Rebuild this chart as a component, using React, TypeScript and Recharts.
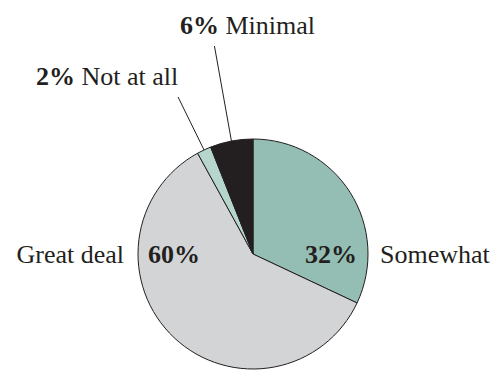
import { PieChart, Pie, Cell } from 'recharts';

const categories = ['Somewhat', 'Great deal', 'Not at all', 'Minimal'];
const shares = [32, 60, 2, 6];
const sliceColors = ['#94bdb3', '#d3d4d6', '#b5d5cd', '#231f20'];

const data = categories.map((name, i) => ({ name, value: shares[i] }));

if (typeof document !== 'undefined') document.body.style.margin = '0';

const INK = '#231f20';
const FONT = '"Liberation Serif", "Times New Roman", serif';
const FS = 26;
const RAD = Math.PI / 180;

// callout lines for the small slices: leader length and text offset from line end
const callouts: Record<string, { dx: number; dy: number; tx: number; ty: number }> = {
  'Not at all': { dx: -26, dy: -53, tx: -71, ty: -12 },
  Minimal: { dx: -17, dy: -95, tx: 33, ty: -12 },
};

function SliceLabel(props: any) {
  const { cx, cy, midAngle, outerRadius, name, value } = props;
  const pct = `${value}%`;
  if (name === 'Somewhat') {
    return (
      <g fontFamily={FONT} fontSize={FS} fill={INK}>
        <text x={cx + outerRadius - 11} y={cy + 9} textAnchor="end" fontWeight="bold">{pct}</text>
        <text x={cx + outerRadius + 12} y={cy + 9} textAnchor="start">{name}</text>
      </g>
    );
  }
  if (name === 'Great deal') {
    return (
      <g fontFamily={FONT} fontSize={FS} fill={INK}>
        <text x={cx - outerRadius + 10} y={cy + 9} textAnchor="start" fontWeight="bold">{pct}</text>
        <text x={cx - outerRadius - 14} y={cy + 9} textAnchor="end">{name}</text>
      </g>
    );
  }
  const c = callouts[name];
  const ex = cx + Math.cos(-midAngle * RAD) * outerRadius;
  const ey = cy + Math.sin(-midAngle * RAD) * outerRadius;
  const lx = ex + c.dx;
  const ly = ey + c.dy;
  return (
    <g>
      <line x1={ex} y1={ey} x2={lx} y2={ly} stroke={INK} strokeWidth={1} />
      <text x={lx + c.tx} y={ly + c.ty} textAnchor="middle" fontFamily={FONT} fontSize={FS} fill={INK}>
        <tspan fontWeight="bold">{pct}</tspan>
        <tspan>{' ' + name}</tspan>
      </text>
    </g>
  );
}

export default function App() {
  return (
    <div style={{ width: 499, height: 370, background: '#fff' }}>
      <PieChart width={499} height={370} margin={{ top: 0, right: 0, bottom: 0, left: 0 }}>
        <Pie
          data={data}
          dataKey="value"
          nameKey="name"
          cx={253}
          cy={254}
          outerRadius={115}
          startAngle={90}
          endAngle={-270}
          stroke={INK}
          strokeWidth={1}
          label={(p: any) => <SliceLabel {...p} />}
          labelLine={false}
          isAnimationActive={false}
        >
          {data.map((d, i) => (
            <Cell key={d.name} fill={sliceColors[i]} />
          ))}
        </Pie>
      </PieChart>
    </div>
  );
}
